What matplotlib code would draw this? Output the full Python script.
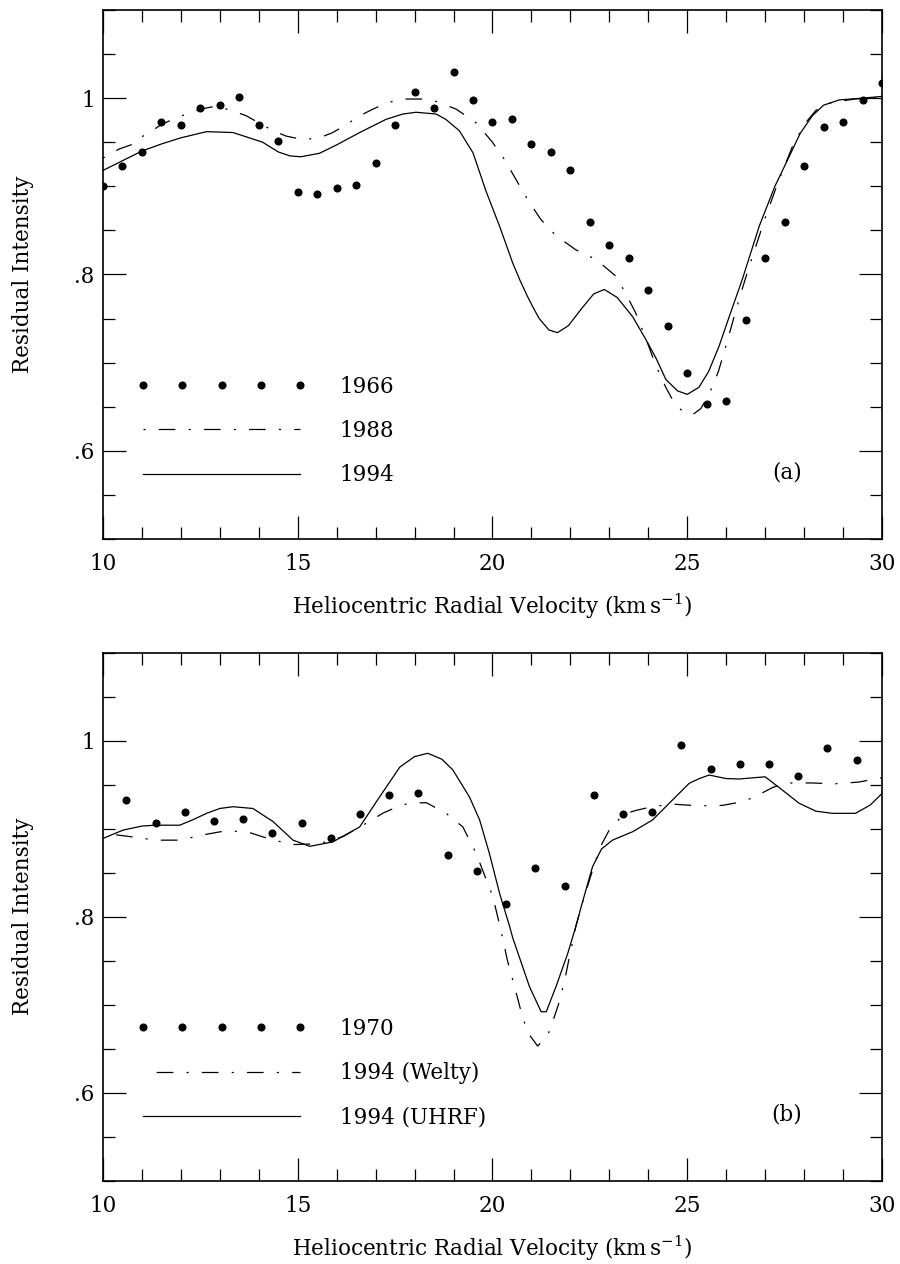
import matplotlib
matplotlib.use('Agg')
import matplotlib.pyplot as plt
from matplotlib.lines import Line2D
from matplotlib.legend_handler import HandlerLine2D
from matplotlib.ticker import MultipleLocator, FuncFormatter

plt.rcParams['font.family'] = 'DejaVu Serif'
plt.rcParams['mathtext.fontset'] = 'dejavuserif'
plt.rcParams['lines.scale_dashes'] = False

# ---- panel (a) ----
v_1966 = [10.0, 10.5, 11.0, 11.5, 12.0, 12.5, 13.0, 13.5, 14.0, 14.5,
          15.0, 15.5, 16.0, 16.5, 17.0, 17.5, 18.0, 18.5, 19.0, 19.5,
          20.0, 20.5, 21.0, 21.5, 22.0, 22.5, 23.0, 23.5, 24.0, 24.5,
          25.0, 25.5, 26.0, 26.5, 27.0, 27.5, 28.0, 28.5, 29.0, 29.5, 30.0]
i_1966 = [0.900, 0.923, 0.939, 0.973, 0.969, 0.989, 0.992, 1.001, 0.969, 0.951,
          0.894, 0.891, 0.898, 0.901, 0.926, 0.969, 1.007, 0.989, 1.030, 0.998,
          0.973, 0.976, 0.948, 0.939, 0.919, 0.860, 0.834, 0.819, 0.782, 0.741,
          0.688, 0.653, 0.657, 0.748, 0.819, 0.860, 0.923, 0.967, 0.973, 0.998, 1.017]

v_1988 = [10.0, 10.4, 10.78, 11.03, 11.54, 11.8, 12.14, 12.56, 12.91, 13.34,
          13.68, 14.0, 14.37, 14.7, 15.13, 15.56, 15.9, 16.25, 16.59, 16.93,
          17.3, 17.78, 18.2, 18.51, 19.07, 19.58, 20.0, 20.3, 20.6, 20.9,
          21.24, 21.63, 22.14, 22.66, 23.17, 23.45, 23.68, 23.95, 24.2, 24.45,
          24.67, 24.9, 25.14, 25.35, 25.56, 25.8, 25.99, 26.33, 26.59, 27.0,
          27.36, 27.7, 28.0, 28.3, 28.7, 29.3, 30.0]
i_1988 = [0.932, 0.942, 0.948, 0.957, 0.971, 0.976, 0.982, 0.988, 0.991, 0.9855,
          0.980, 0.972, 0.963, 0.957, 0.953, 0.955, 0.961, 0.970, 0.980, 0.9875,
          0.995, 0.999, 0.999, 0.997, 0.9875, 0.972, 0.950, 0.931, 0.908, 0.885,
          0.8625, 0.844, 0.828, 0.817, 0.798, 0.776, 0.756, 0.726, 0.696, 0.672,
          0.654, 0.644, 0.641, 0.648, 0.664, 0.690, 0.7185, 0.772, 0.809, 0.864,
          0.908, 0.945, 0.970, 0.986, 0.995, 0.999, 1.001]

v_1994a = [10.0, 10.5, 11.0, 11.5, 12.0, 12.66, 13.34, 14.1, 14.5, 14.8,
           15.08, 15.56, 16.0, 16.59, 17.27, 17.7, 18.04, 18.55, 18.8, 19.15,
           19.5, 19.83, 20.18, 20.35, 20.52, 20.7, 20.9, 21.05, 21.2, 21.45,
           21.67, 21.95, 22.3, 22.6, 22.87, 23.2, 23.6, 23.94, 24.2, 24.45,
           24.75, 25.0, 25.3, 25.55, 25.82, 26.1, 26.41, 26.85, 27.25, 27.62,
           27.9, 28.21, 28.5, 28.9, 29.5, 30.0]
i_1994a = [0.918, 0.929, 0.940, 0.948, 0.955, 0.962, 0.961, 0.950, 0.939, 0.9345,
           0.9335, 0.9375, 0.947, 0.961, 0.976, 0.982, 0.984, 0.982, 0.976, 0.963,
           0.938, 0.895, 0.855, 0.834, 0.813, 0.794, 0.775, 0.762, 0.750, 0.737,
           0.734, 0.742, 0.762, 0.778, 0.783, 0.774, 0.752, 0.726, 0.705, 0.681,
           0.668, 0.664, 0.672, 0.690, 0.719, 0.755, 0.794, 0.855, 0.900, 0.934,
           0.960, 0.980, 0.992, 0.998, 1.000, 1.002]

# ---- panel (b) ----
v_1970 = [10.6, 11.35, 12.1, 12.85, 13.6, 14.35, 15.1, 15.85, 16.6, 17.35,
          18.1, 18.85, 19.6, 20.35, 21.1, 21.85, 22.6, 23.35, 24.1, 24.85,
          25.6, 26.35, 27.1, 27.85, 28.6, 29.35]
i_1970 = [0.933, 0.906, 0.919, 0.909, 0.911, 0.895, 0.906, 0.890, 0.917, 0.938,
          0.941, 0.870, 0.852, 0.814, 0.855, 0.835, 0.938, 0.917, 0.919, 0.995,
          0.968, 0.973, 0.973, 0.960, 0.992, 0.978]

v_welty = [10.0, 10.7, 11.37, 11.97, 12.57, 13.2, 13.77, 14.37, 14.92, 15.56,
           16.16, 16.75, 17.2, 17.62, 17.87, 18.3, 18.81, 19.24, 19.58, 20.01,
           20.22, 20.38, 20.6, 20.78, 20.95, 21.16, 21.42, 21.56, 21.69, 21.85,
           21.96, 22.14, 22.35, 22.57, 22.77, 23.04, 23.4, 23.7, 24.1, 24.6,
           25.3, 25.9, 26.46, 26.85, 27.2, 27.55, 28.2, 28.77, 29.4, 30.0]
i_welty = [0.895, 0.891, 0.887, 0.887, 0.893, 0.898, 0.8955, 0.887, 0.882, 0.883,
           0.891, 0.906, 0.918, 0.926, 0.929, 0.9296, 0.9175, 0.902, 0.872, 0.8227,
           0.784, 0.751, 0.715, 0.6845, 0.6656, 0.653, 0.6656, 0.6826, 0.6997, 0.727,
           0.751, 0.789, 0.822, 0.853, 0.8795, 0.902, 0.917, 0.921, 0.925, 0.928,
           0.926, 0.9265, 0.931, 0.939, 0.947, 0.952, 0.952, 0.951, 0.953, 0.958]

v_uhrf = [10.0, 10.52, 11.0, 11.34, 11.97, 12.3, 12.66, 13.0, 13.34, 13.85,
          14.37, 14.88, 15.31, 15.9, 16.59, 17.1, 17.62, 18.0, 18.34, 18.7,
          18.98, 19.41, 19.67, 19.92, 20.18, 20.44, 20.52, 20.95, 21.25, 21.38,
          21.63, 21.93, 22.14, 22.3, 22.57, 22.8, 23.08, 23.6, 24.11, 24.62,
          25.05, 25.31, 25.56, 26.0, 26.33, 27.0, 27.44, 27.87, 28.3, 28.72,
          29.32, 29.7, 30.0]
i_uhrf = [0.889, 0.8985, 0.903, 0.904, 0.904, 0.910, 0.9175, 0.923, 0.925, 0.923,
          0.908, 0.887, 0.880, 0.885, 0.902, 0.936, 0.970, 0.982, 0.9857, 0.979,
          0.967, 0.936, 0.910, 0.872, 0.827, 0.789, 0.776, 0.7205, 0.692, 0.692,
          0.7205, 0.758, 0.789, 0.815, 0.857, 0.877, 0.887, 0.8966, 0.910, 0.9326,
          0.9516, 0.957, 0.961, 0.957, 0.9565, 0.959, 0.944, 0.929, 0.920, 0.9175,
          0.9175, 0.927, 0.940]

FS = 15.5
DASHDOT = (12, 9.5, 1.5, 9.5)


def fmt_y(val, pos):
    if abs(val - 1.0) < 1e-6:
        return '1'
    return ('%.1f' % val).lstrip('0')


def style_axes(ax):
    ax.set_xlim(10, 30)
    ax.set_ylim(0.5, 1.1)
    ax.xaxis.set_major_locator(MultipleLocator(5))
    ax.xaxis.set_minor_locator(MultipleLocator(1))
    ax.yaxis.set_major_locator(MultipleLocator(0.2))
    ax.yaxis.set_minor_locator(MultipleLocator(0.05))
    ax.yaxis.set_major_formatter(FuncFormatter(fmt_y))
    ax.tick_params(which='both', direction='in', top=True, right=True,
                   colors='black', labelsize=FS)
    ax.tick_params(which='major', length=16.5, width=0.9)
    ax.tick_params(which='minor', length=8.5, width=0.9)
    ax.tick_params(axis='x', pad=10)
    ax.tick_params(axis='y', pad=6)
    for s in ax.spines.values():
        s.set_linewidth(1.2)
    ax.set_ylabel('Residual Intensity', fontsize=FS)
    ax.set_xlabel(r'Heliocentric Radial Velocity (km$\,$s$^{-1}$)', fontsize=FS)
    ax.yaxis.set_label_coords(-0.089, 0.5)
    ax.xaxis.set_label_coords(0.5, -0.1)


def add_legend(ax, labels, dd_offset):
    h1 = Line2D([], [], linestyle='none', marker='o', markersize=4.8, color='black')
    h2 = Line2D([], [], linestyle=(dd_offset, DASHDOT), linewidth=0.9, color='black')
    h3 = Line2D([], [], linestyle='-', linewidth=0.9, color='black')
    ax.legend([h1, h2, h3], labels, loc='upper left', bbox_to_anchor=(0.0513, 0.309),
              frameon=False, fontsize=FS, handlelength=7.3, handletextpad=1.85,
              labelspacing=1.04, borderpad=0, borderaxespad=0,
              handler_map={h1: HandlerLine2D(marker_pad=0, numpoints=5)})


fig = plt.figure(figsize=(9, 12.64), dpi=100)
ax1 = fig.add_axes([0.1144, 0.5736, 0.8656, 0.4185])
ax2 = fig.add_axes([0.1144, 0.0659, 0.8656, 0.4177])

ax1.plot(v_1966, i_1966, linestyle='none', marker='o', markersize=4.8, color='black')
ax1.plot(v_1988, i_1988, linestyle=(21.5, DASHDOT), linewidth=0.9, color='black')
ax1.plot(v_1994a, i_1994a, linestyle='-', linewidth=0.9, color='black')
style_axes(ax1)
add_legend(ax1, ['1966', '1988', '1994'], 21.5)
ax1.text(0.878, 0.125, '(a)', transform=ax1.transAxes, ha='center', va='center', fontsize=FS)

ax2.plot(v_1970, i_1970, linestyle='none', marker='o', markersize=4.8, color='black')
ax2.plot(v_welty, i_welty, linestyle=(23, DASHDOT), linewidth=0.9, color='black')
ax2.plot(v_uhrf, i_uhrf, linestyle='-', linewidth=0.9, color='black')
style_axes(ax2)
add_legend(ax2, ['1970', '1994 (Welty)', '1994 (UHRF)'], 23)
ax2.text(0.878, 0.125, '(b)', transform=ax2.transAxes, ha='center', va='center', fontsize=FS)

fig.savefig('out.png', dpi=100)
